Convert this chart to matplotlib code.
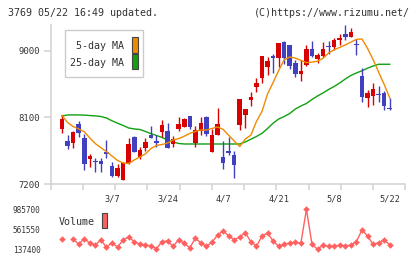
import numpy as np
import matplotlib
matplotlib.use('Agg')
import matplotlib.pyplot as plt
from matplotlib.patches import Rectangle

plt.rcParams['font.family'] = ['DejaVu Sans Mono']
plt.rcParams['font.size'] = 7.2

# daily candles, 61 sessions ending 5/22
opens = [7990, 7938, 7780, 7758, 8010, 7825, 7533, 7500, 7510, 7632,
         7443, 7308, 7254, 7477, 7839, 7569, 7686, 7861, 7785, 7906,
         7916, 7744, 7936, 7974, 8118, 7749, 7916, 8105, 7636, 7861,
         7569, 7650, 7591, 7997, 8132, 8334, 8514, 8635, 8775, 8928,
         8897, 9121, 9076, 8829, 8685, 8806, 9018, 8888, 8928, 9054,
         9050, 9140, 9221, 9185, 9094, 8658, 8361, 8388, 8419, 8429, 8226]
highs = [7990, 8127, 7861, 7915, 8050, 7871, 7609, 7547, 7547, 7794,
         7493, 7470, 7500, 7821, 7848, 7704, 7821, 7983, 7855, 8064,
         8028, 7852, 8105, 8095, 8118, 7983, 8109, 8118, 7938, 8230,
         7785, 7839, 7645, 8348, 8213, 8446, 8627, 8928, 8910, 8951,
         9108, 9135, 9076, 8874, 8874, 9076, 9135, 8964, 9113, 9130,
         9171, 9229, 9342, 9306, 9162, 8766, 8465, 8564, 8519, 8452, 8361]
lows = [7990, 7884, 7668, 7690, 7834, 7389, 7434, 7366, 7366, 7547,
        7300, 7290, 7254, 7470, 7632, 7533, 7650, 7817, 7700, 7839,
        7690, 7704, 7915, 7970, 7938, 7704, 7861, 7852, 7636, 7861,
        7402, 7592, 7277, 7929, 7952, 8253, 8446, 8560, 8671, 8703,
        8784, 8816, 8752, 8649, 8590, 8797, 8910, 8829, 8919, 8959,
        9005, 9072, 9140, 9185, 8937, 8307, 8240, 8271, 8307, 8195, 8195]
closes = [7990, 8078, 7717, 7902, 7884, 7474, 7578, 7494, 7474, 7605,
          7312, 7416, 7488, 7740, 7636, 7659, 7767, 7817, 7758, 7997,
          7690, 7808, 8010, 8078, 7974, 7929, 8028, 7871, 7861, 8010,
          7488, 7622, 7456, 8348, 8213, 8379, 8560, 8928, 8860, 8905,
          9108, 8897, 8797, 8685, 8730, 9018, 8928, 8942, 9023, 9045,
          9140, 9175, 9185, 9252, 9072, 8375, 8429, 8478, 8406, 8249, 8208]

ma5 = [np.nan, 8125, 8029, 7976, 7943, 7906, 7821, 7745, 7690, 7636,
       7578, 7517, 7484, 7477, 7524, 7565, 7605, 7679, 7720, 7733,
       7753, 7794, 7813, 7845, 7883, 7909, 7929, 7929, 7949, 7970,
       7937, 7858, 7780, 7706, 7808, 7859, 8044, 8179, 8415, 8570,
       8730, 8877, 8915, 8899, 8869, 8838, 8845, 8857, 8897, 8969,
       9012, 9044, 9077, 9115, 9152, 9158, 9030, 8879, 8709, 8543, 8361]
ma25 = [np.nan, 8118, 8132, 8133, 8132, 8130, 8124, 8119, 8111, 8091,
        8053, 8021, 7990, 7956, 7943, 7936, 7909, 7880, 7855, 7828,
        7794, 7767, 7747, 7740, 7740, 7740, 7740, 7740, 7740, 7740,
        7740, 7740, 7740, 7740, 7767, 7805, 7841, 7884, 7949, 8021,
        8077, 8111, 8152, 8212, 8253, 8287, 8341, 8388, 8429, 8476,
        8517, 8564, 8617, 8665, 8699, 8728, 8763, 8793, 8816, 8816, 8816]

volume = [np.nan, 349500, np.nan, 362000, 243400, 366000, 264600, 228600, 341000, 179800,
          277400, 179800, 341000, 398200, 298600, 249800, 228600, 213700, 150100, 298600,
          313400, 201000, 341000, 264600, 171300, 370700, 271000, 201000, 285800, 440700,
          525500, 426000, 334600, 404600, 483000, 298600, 201000, 419500, 483000, 313400,
          201000, 243400, 271000, 285800, 264600, 985700, 243400, 137400, 228600, 201000,
          201000, 228600, 207400, 228600, 298600, 546700, 419500, 243400, 277400, 341000, 228600]

date_idx = [10, 20, 30, 40, 50, 60]
date_labels = ['3/7', '3/24', '4/7', '4/21', '5/8', '5/22']
price_ticks = [7200, 8100, 9000]
vol_ticks = [137400, 561550, 985700]

RED = '#d80000'
BLUE = '#4040c0'
GRAY = '#d4d4d4'
TXT = '#333333'

fig = plt.figure(figsize=(4.2, 2.59), dpi=100)
ax = fig.add_axes([50.7 / 420, 1 - 184 / 259, (405.3 - 50.7) / 420, (184 - 25) / 259])

x = np.arange(len(closes))
o = np.array(opens)
c = np.array(closes)
up = c >= o
cols = np.where(up, RED, BLUE)
ax.vlines(x, lows, highs, colors=cols, lw=1, zorder=3)
bottom = np.minimum(o, c)
height = np.maximum(np.abs(c - o), 12)
ax.bar(x, height, bottom=bottom, width=0.82, color=cols, lw=0, zorder=4)

ax.plot(x, ma5, color='#f08a00', lw=1, zorder=5)
ax.plot(x, ma25, color='#10a010', lw=1, zorder=2)

ax.set_xlim(-1.04, 62.8)
ax.set_ylim(7200, 9346)
for s in ['top', 'right']:
    ax.spines[s].set_visible(False)
for s in ['left', 'bottom']:
    ax.spines[s].set_color(GRAY)
    ax.spines[s].set_linewidth(1.2)
ax.set_yticks(price_ticks)
ax.set_yticklabels([str(t) for t in price_ticks], color=TXT, fontsize=6.4)
ax.tick_params(axis='y', length=4.8, width=1.2, color=GRAY, pad=3)
ax.set_xticks(date_idx)
ax.set_xticklabels(date_labels, color=TXT, fontsize=6.2)
ax.tick_params(axis='x', which='major', length=0, pad=7.5)
ax.set_xticks(np.linspace(-1.04, 62.8, 12), minor=True)
ax.tick_params(axis='x', which='minor', length=4.5, width=1.2, color=GRAY)

# legend box
fig.patches.append(Rectangle((65 / 420, 1 - 76.7 / 259), 78.3 / 420, 46.7 / 259,
                             transform=fig.transFigure, fc='white', ec='#cccccc', lw=1, zorder=10))
fig.text(124.5 / 420, 1 - 46 / 259, '5-day MA', ha='right', va='center', color=TXT, zorder=11)
fig.text(124.5 / 420, 1 - 63.3 / 259, '25-day MA', ha='right', va='center', color=TXT, zorder=11)
fig.patches.append(Rectangle((131.5 / 420, 1 - 53.3 / 259), 6 / 420, 16 / 259,
                             transform=fig.transFigure, fc='#f08a00', ec='#444444', lw=0.8, zorder=11))
fig.patches.append(Rectangle((131.5 / 420, 1 - 69.3 / 259), 6 / 420, 15 / 259,
                             transform=fig.transFigure, fc='#10a010', ec='#444444', lw=0.8, zorder=11))

# volume panel
vx = fig.add_axes([50.7 / 420, 1 - 253 / 259, (405.3 - 50.7) / 420, 48 / 259])
vx.plot(x, volume, color='#ff6060', lw=1, marker='D', ms=3.0, mew=0.3, mec='#ff6060', mfc='#ff6060')
vx.set_xlim(-1.04, 62.8)
vx.set_ylim(58930, 1076800)
for s in vx.spines.values():
    s.set_visible(False)
vx.set_xticks([])
vx.set_yticks(vol_ticks)
vx.set_yticklabels([str(t) for t in vol_ticks], color=TXT, fontsize=5.6)
vx.tick_params(axis='y', length=0, pad=7.5)
fig.text(58.5 / 420, 1 - 222.3 / 259, 'Volume', ha='left', va='center', color=TXT)
fig.patches.append(Rectangle((101.7 / 420, 1 - 228 / 259), 5.6 / 420, 15 / 259,
                             transform=fig.transFigure, fc='#ff6060', ec='#444444', lw=0.8))

fig.text(8 / 420, 1 - 12.5 / 259, '3769 05/22 16:49 updated.', ha='left', va='center', color=TXT)
fig.text(410 / 420, 1 - 12.5 / 259, '(C)https://www.rizumu.net/', ha='right', va='center', color=TXT)

fig.savefig('out.png', dpi=100)
